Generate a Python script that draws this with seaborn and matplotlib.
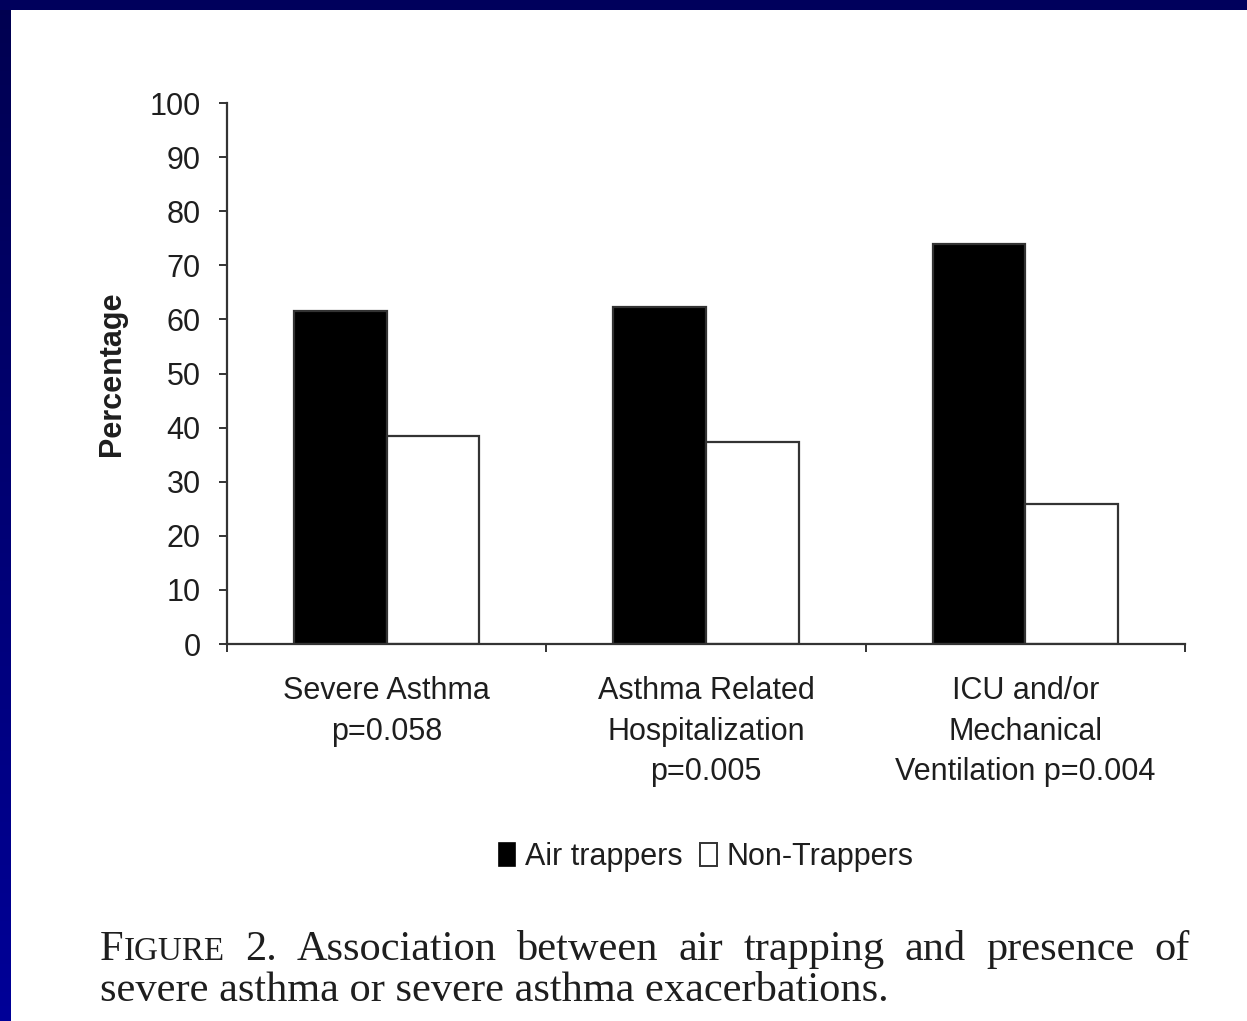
import numpy as np
import pandas as pd
import matplotlib
matplotlib.use("Agg")
import matplotlib.pyplot as plt
from matplotlib.patches import Patch
import seaborn as sns

# ---- data -------------------------------------------------------------
categories = [
    "Severe Asthma\np=0.058",
    "Asthma Related\nHospitalization\np=0.005",
    "ICU and/or\nMechanical\nVentilation p=0.004",
]
groups = ["Air trappers", "Non-Trappers"]
air_trappers = [61.5, 62.3, 74.0]
non_trappers = [38.5, 37.3, 25.8]
y_ticks = list(range(0, 101, 10))
y_label = "Percentage"
caption_line1 = "FIGURE 2. Association between air trapping and presence of"
caption_line2 = "severe asthma or severe asthma exacerbations."

# ---- figure setup -----------------------------------------------------
W, H, DPI = 1247, 1021, 100
INK = "#1e1e1e"
LINE = "#333333"

sns.set_theme(style="white")
plt.rcParams["font.family"] = ["Liberation Sans", "DejaVu Sans"]

df = pd.DataFrame({
    "category": categories * 2,
    "group": [groups[0]] * len(categories) + [groups[1]] * len(categories),
    "value": air_trappers + non_trappers,
})

fig = plt.figure(figsize=(W / DPI, H / DPI), dpi=DPI, facecolor="white")

# slide frame: navy band on top, blue gradient strip on the left
left_strip = np.zeros((H, 11, 3))
left_strip[:, :, 2] = np.linspace(0x50, 0x98, H)[:, None] / 255.0
fig.figimage(left_strip, xo=0, yo=0, origin="upper")
top_band = np.zeros((10, W, 3))
top_band[:, :, 2] = 0x5c / 255.0
fig.figimage(top_band, xo=0, yo=H - 10, origin="upper")

ax = fig.add_axes([227 / W, 1 - 644 / H, (1185 - 227) / W, (644 - 103) / H])
palette = {groups[0]: "black", groups[1]: "white"}
sns.barplot(data=df, x="category", y="value", hue="group", hue_order=groups,
            palette=palette, width=0.58, saturation=1, edgecolor=LINE,
            linewidth=1.6, legend=False, ax=ax)

ax.set_xlim(-0.5, len(categories) - 0.5)
ax.set_ylim(0, 100)
ax.set_yticks(y_ticks)
ax.set_facecolor("white")
for side in ("top", "right"):
    ax.spines[side].set_visible(False)
for side in ("left", "bottom"):
    ax.spines[side].set_color(LINE)
    ax.spines[side].set_linewidth(1.6)

ax.tick_params(axis="y", left=True, direction="out", length=6, width=1.4,
               color=LINE, labelsize=22, labelcolor=INK, pad=13)
ax.set_xticks(range(len(categories)))
ax.set_xticklabels(categories, fontsize=22, color=INK, linespacing=1.46)
ax.tick_params(axis="x", which="major", bottom=True, length=0, pad=23)
ax.set_xticks(np.arange(-0.5, len(categories), 1.0), minor=True)
ax.tick_params(axis="x", which="minor", bottom=True, direction="out",
               length=6, width=1.4, color=LINE)
ax.set_xlabel("")
ax.set_ylabel(y_label, fontsize=22, fontweight="bold", color=INK, labelpad=16)

handles = [Patch(facecolor="black", edgecolor="black", linewidth=1.2),
           Patch(facecolor="white", edgecolor=LINE, linewidth=1.4)]
fig.legend(handles, groups, loc="center", bbox_to_anchor=(706 / W, 1 - 857 / H),
           ncol=2, frameon=False, fontsize=22, labelcolor=INK,
           handlelength=0.55, handleheight=0.75, handletextpad=0.3,
           columnspacing=0.6, borderpad=0)

# ---- caption (justified first line, small caps for the label) --------
cap_kw = dict(family=["Liberation Serif", "DejaVu Serif"], color=INK,
              ha="left", va="baseline")
cap_size = 30.5
x_start, x_end = 100, 1190
base1, base2 = H - 960, H - 1001
renderer = fig.canvas.get_renderer()

pieces = []
for word in caption_line1.split(" "):
    if word.isalpha() and word.isupper() and len(word) > 1:
        parts = [(word[0], cap_size), (word[1:], cap_size * 0.78)]
    else:
        parts = [(word, cap_size)]
    texts = [fig.text(0, base1 / H, s, fontsize=sz, **cap_kw) for s, sz in parts]
    widths = [t.get_window_extent(renderer).width for t in texts]
    pieces.append((texts, widths))

total = sum(sum(ws) for _, ws in pieces)
gap = (x_end - x_start - total) / (len(pieces) - 1)
x = x_start
for texts, widths in pieces:
    for t, w in zip(texts, widths):
        t.set_x(x / W)
        x += w
    x += gap

fig.text(x_start / W, base2 / H, caption_line2, fontsize=cap_size, **cap_kw)

fig.savefig("out.png", dpi=DPI, facecolor="white")
